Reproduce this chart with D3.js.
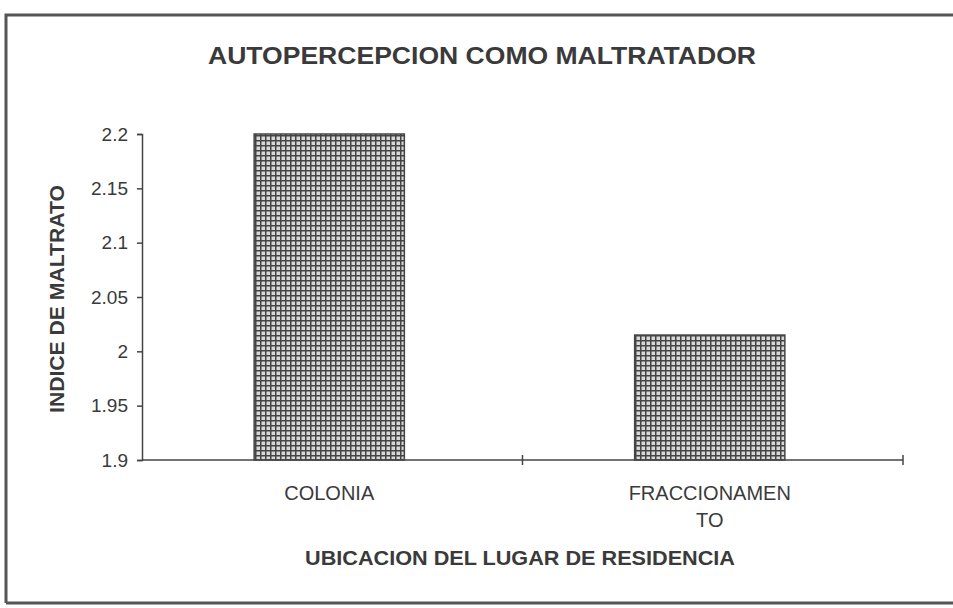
<!DOCTYPE html>
<html>
<head>
<meta charset="utf-8">
<script src="https://cdnjs.cloudflare.com/ajax/libs/d3/7.8.5/d3.min.js"></script>
<style>
  body { margin: 0; background: #fff; }
  text { font-family: "Liberation Sans", Arial, sans-serif; fill: #3a3a3a; }
</style>
</head>
<body>
<script>
// chart data
var categories = ['COLONIA', 'FRACCIONAMENTO'];
var categoryLines = [['COLONIA'], ['FRACCIONAMEN', 'TO']];
var values = [2.2, 2.015];
var yTicks = [1.9, 1.95, 2, 2.05, 2.1, 2.15, 2.2];
var yTickLabels = ['1.9', '1.95', '2', '2.05', '2.1', '2.15', '2.2'];
var title = 'AUTOPERCEPCION COMO MALTRATADOR';
var xTitle = 'UBICACION DEL LUGAR DE RESIDENCIA';
var yTitle = 'INDICE DE MALTRATO';

var W = 953, H = 608;
var plot = { left: 142, right: 903, top: 134, bottom: 460 };

var svg = d3.select('body').append('svg')
  .attr('width', W)
  .attr('height', H);

// grid hatch used to fill the bars
var defs = svg.append('defs');
var pat = defs.append('pattern')
  .attr('id', 'hatch')
  .attr('patternUnits', 'userSpaceOnUse')
  .attr('width', 5)
  .attr('height', 5);
pat.append('rect').attr('width', 5).attr('height', 5).attr('fill', '#d8d8d8');
pat.append('path')
  .attr('d', 'M0,0.75 H5 M0.75,0 V5')
  .attr('stroke', '#444')
  .attr('stroke-width', 1.5);

// outer frame
svg.append('path')
  .attr('d', 'M6,603 V15 H955 M6,603 H955')
  .attr('fill', 'none')
  .attr('stroke', '#555')
  .attr('stroke-width', 3);

var x = d3.scaleBand()
  .domain(categories)
  .range([plot.left, plot.right])
  .paddingInner(0.6)
  .paddingOuter(0.3);

var y = d3.scaleLinear()
  .domain([1.9, 2.2])
  .range([plot.bottom, plot.top]);

// bars
svg.selectAll('rect.bar')
  .data(values)
  .enter().append('rect')
  .attr('class', 'bar')
  .attr('x', function (d, i) { return x(categories[i]) - 2; })
  .attr('y', function (d) { return y(d); })
  .attr('width', x.bandwidth() - 2)
  .attr('height', function (d) { return y(1.9) - y(d); })
  .attr('fill', 'url(#hatch)')
  .attr('stroke', '#444')
  .attr('stroke-width', 1.5);

// y axis
var yAxis = svg.append('g')
  .attr('transform', 'translate(' + plot.left + ',0)')
  .call(d3.axisLeft(y)
    .tickValues(yTicks)
    .tickFormat(function (d, i) { return yTickLabels[i]; })
    .tickSize(5)
    .tickPadding(9));
yAxis.selectAll('path, line').attr('stroke', '#444').attr('stroke-width', 1.5);
yAxis.selectAll('text')
  .style('font-size', '19px')
  .style('font-family', '"Liberation Sans", Arial, sans-serif')
  .attr('fill', '#3a3a3a');

// x axis line, with ticks between the categories and at the end
var xAxisG = svg.append('g');
xAxisG.append('line')
  .attr('x1', plot.left).attr('x2', plot.right)
  .attr('y1', plot.bottom).attr('y2', plot.bottom)
  .attr('stroke', '#444').attr('stroke-width', 1.5);
var mid = (x(categories[0]) + x.bandwidth() + x(categories[1])) / 2;
xAxisG.selectAll('line.tick')
  .data([mid, plot.right])
  .enter().append('line')
  .attr('class', 'tick')
  .attr('x1', function (d) { return d; }).attr('x2', function (d) { return d; })
  .attr('y1', plot.bottom - 5).attr('y2', plot.bottom + 5)
  .attr('stroke', '#444').attr('stroke-width', 1.5);

// category labels
categoryLines.forEach(function (lines, i) {
  var cx = x(categories[i]) + x.bandwidth() / 2 - 3;
  var t = svg.append('text')
    .attr('x', cx)
    .attr('y', 500)
    .attr('text-anchor', 'middle')
    .style('font-size', '20px');
  lines.forEach(function (ln, j) {
    t.append('tspan').attr('x', cx).attr('dy', j === 0 ? 0 : 27).text(ln);
  });
});

// titles
svg.append('text')
  .attr('x', 482).attr('y', 64)
  .attr('text-anchor', 'middle')
  .attr('textLength', 548)
  .attr('lengthAdjust', 'spacingAndGlyphs')
  .style('font-size', '24px')
  .style('font-weight', 'bold')
  .text(title);

svg.append('text')
  .attr('x', 520).attr('y', 565)
  .attr('text-anchor', 'middle')
  .attr('textLength', 430)
  .attr('lengthAdjust', 'spacingAndGlyphs')
  .style('font-size', '20px')
  .style('font-weight', 'bold')
  .text(xTitle);

svg.append('text')
  .attr('transform', 'translate(64,299) rotate(-90)')
  .attr('text-anchor', 'middle')
  .attr('textLength', 228)
  .attr('lengthAdjust', 'spacingAndGlyphs')
  .style('font-size', '20px')
  .style('font-weight', 'bold')
  .text(yTitle);
</script>
</body>
</html>
